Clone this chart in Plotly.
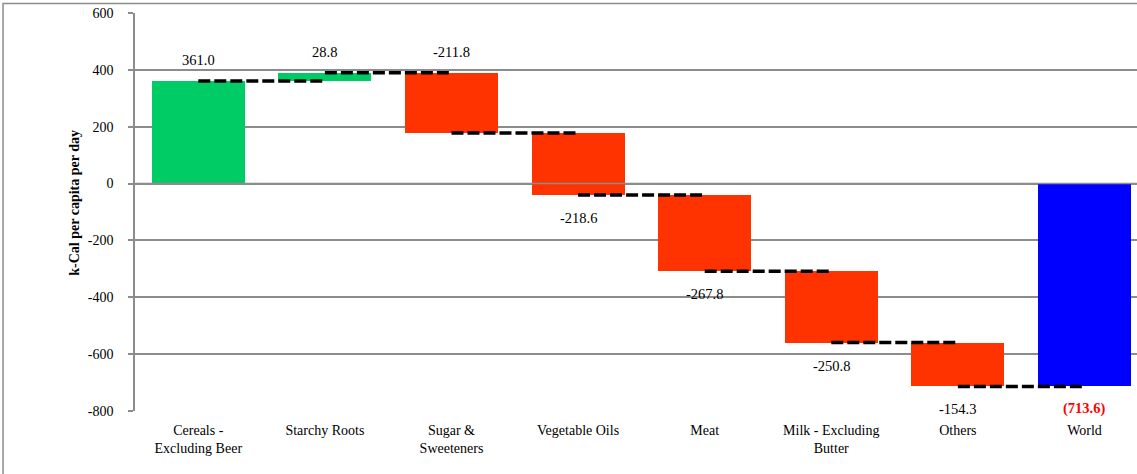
import plotly.graph_objects as go

categories = ["Cereals -<br>Excluding Beer", "Starchy Roots", "Sugar &<br>Sweeteners",
              "Vegetable Oils", "Meat", "Milk - Excluding<br>Butter", "Others", "World"]
changes = [361.0, 28.8, -211.8, -218.6, -267.8, -250.8, -154.3]
world_total = -713.6
change_labels = ["361.0", "28.8", "-211.8", "-218.6", "-267.8", "-250.8", "-154.3"]
label_above = [True, True, True, False, False, False, False]
world_label = "(713.6)"
y_ticks = [-800, -600, -400, -200, 0, 200, 400, 600]
y_tick_text = ["-800", "-600", "-400", "-200", "0", "200", "400", "600"]

GREEN = "#00CC66"
RED = "#FF3300"
BLUE = "#0000FF"
GRID = "#8c8c8c"
SERIF = "Liberation Serif"

# cumulative positions
bases, ends = [], []
cum = 0.0
for c in changes:
    bases.append(cum)
    cum += c
    ends.append(cum)

n = len(categories)
xs = list(range(n))

fig = go.Figure()

# waterfall bars
bar_base = bases + [0]
bar_len = changes + [world_total]
bar_colors = [GREEN if c >= 0 else RED for c in changes] + [BLUE]
fig.add_trace(go.Bar(x=xs, y=bar_len, base=bar_base, width=0.735,
                     marker=dict(color=bar_colors, line=dict(width=0)),
                     showlegend=False, hoverinfo="skip"))

# dashed connectors
for i in range(n - 1):
    fig.add_trace(go.Scatter(x=[xs[i], xs[i + 1]], y=[ends[i], ends[i]], mode="lines",
                             line=dict(color="black", width=3.5, dash="12px,4px"),
                             showlegend=False, hoverinfo="skip"))

# value labels
for i, c in enumerate(changes):
    top = max(bases[i], ends[i])
    bottom = min(bases[i], ends[i])
    if label_above[i]:
        fig.add_annotation(x=xs[i], y=top, text=change_labels[i], showarrow=False, yshift=21,
                           font=dict(family=SERIF, size=14.5, color="black"))
    else:
        fig.add_annotation(x=xs[i], y=bottom, text=change_labels[i], showarrow=False, yshift=-23,
                           font=dict(family=SERIF, size=14.5, color="black"))
fig.add_annotation(x=xs[-1], y=world_total, text="<b>" + world_label + "</b>", showarrow=False,
                   yshift=-22, font=dict(family=SERIF, size=14.5, color="#FF0000"))

# y-axis title
fig.add_annotation(xref="paper", yref="paper", x=-0.06, y=0.523, xanchor="center", yanchor="middle",
                   text="<b>k-Cal per capita per day</b>",
                   textangle=-90, showarrow=False, font=dict(family=SERIF, size=14, color="black"))

# zero axis line above bars
fig.add_shape(type="line", xref="paper", yref="y", x0=0, x1=1, y0=0, y1=0,
              line=dict(color=GRID, width=1.5), layer="above")

# outer chart frame
fig.add_shape(type="rect", xref="paper", yref="paper", x0=-0.1317, x1=1.05, y0=-0.3, y1=1.0239,
              line=dict(color=GRID, width=1.5), layer="below")

fig.update_layout(
    width=1137, height=474,
    margin=dict(l=135, r=0, t=13, b=63),
    plot_bgcolor="white", paper_bgcolor="white",
    font=dict(family=SERIF, size=13, color="black"),
    bargap=0,
    showlegend=False,
)
fig.update_xaxes(range=[-0.5, 7.415], tickmode="array", tickvals=xs, ticktext=categories,
                 showgrid=False, zeroline=False, showline=False, ticks="",
                 ticklabelstandoff=9,
                 tickfont=dict(family=SERIF, size=14, color="black"), fixedrange=True)
fig.update_yaxes(range=[-800, 600], tickmode="array", tickvals=y_ticks, ticktext=y_tick_text,
                 showgrid=True, gridcolor=GRID, gridwidth=1.5, zeroline=False,
                 showline=True, linecolor=GRID, linewidth=1.5,
                 ticks="outside", ticklen=5, tickcolor=GRID, tickwidth=1.5,
                 ticklabelstandoff=12,
                 tickfont=dict(family=SERIF, size=14, color="black"), fixedrange=True)

fig.write_html("out.html")
